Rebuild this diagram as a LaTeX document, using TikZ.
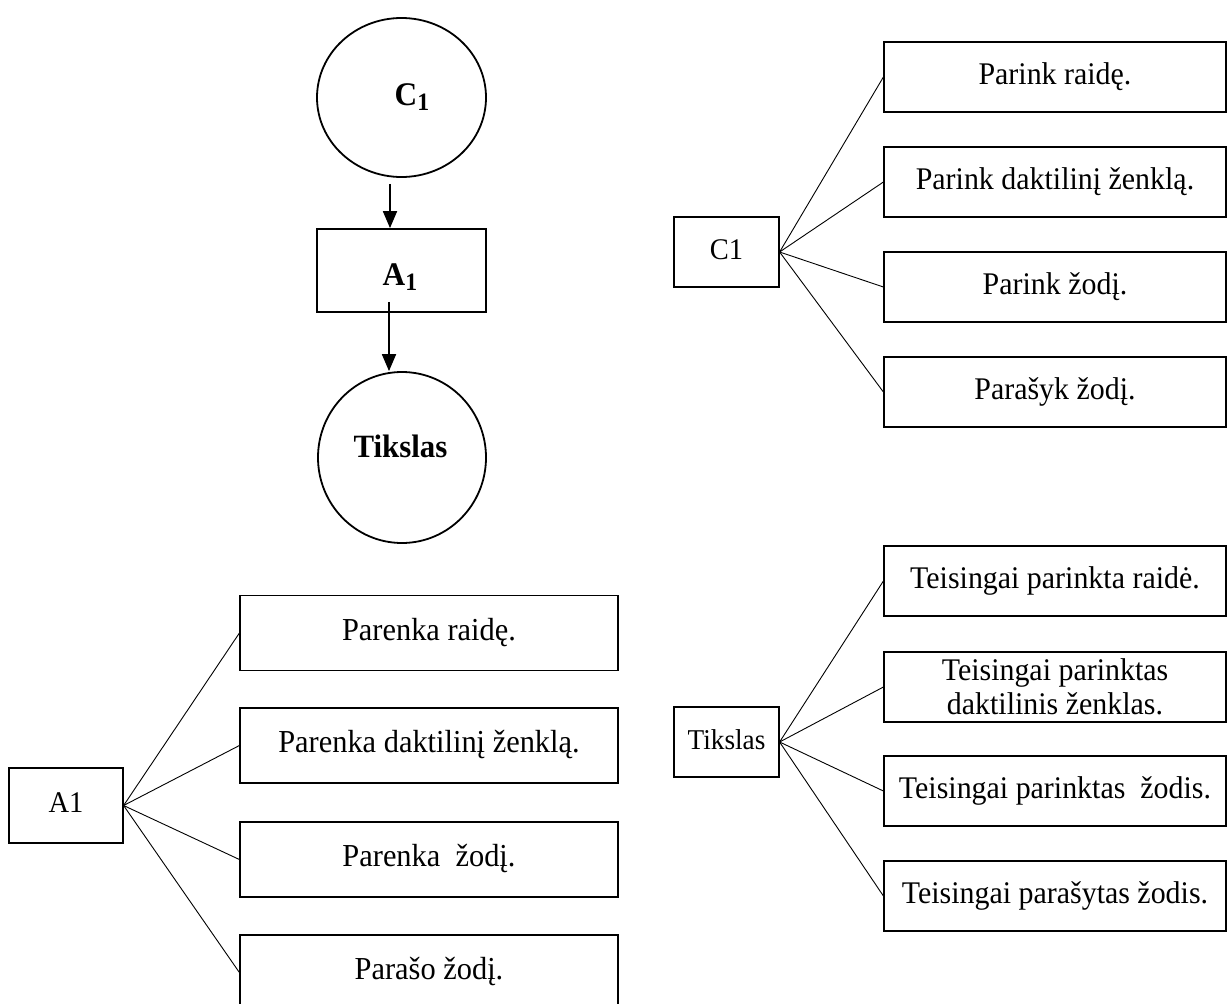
\documentclass[tikz,border=0pt]{standalone}
\usepackage{fontspec}
\setmainfont[FakeStretch=0.95]{Liberation Serif}
\usetikzlibrary{shapes.geometric,arrows.meta}
\begin{document}
\begin{tikzpicture}[x=1pt,y=-1pt,
  box/.style={draw, line width=1.2pt, inner sep=0pt, font=\fontsize{31.5}{35}\selectfont, text height=21pt, text depth=7pt, align=center},
  rbox/.style={box, minimum width=342pt, minimum height=70pt},
  lbox/.style={box, minimum width=378pt, minimum height=75pt, font=\fontsize{32}{35}\selectfont},
  hub/.style={box, minimum width=105pt, minimum height=70pt, font=\fontsize{30}{34}\selectfont},
  goal/.style={draw, ellipse, line width=1.8pt, inner sep=0pt},
  fan/.style={line width=0.9pt},
  arr/.style={line width=1.8pt, -{Triangle[length=17pt,width=14pt]}},
  boldlbl/.style={font=\fontsize{33}{33}\selectfont\bfseries, inner sep=0pt, anchor=base}
]
\useasboundingbox (0,0) rectangle (1227,1004);

% left flow
\node[goal, minimum width=169pt, minimum height=159pt] (cc) at (401.5,97.5) {};
\node[boldlbl] (cctext) at (412,105) {C\raisebox{-5pt}{\fontsize{25}{25}\selectfont 1}};
\node[draw, line width=1.8pt, inner sep=0pt, minimum width=169pt, minimum height=83pt] (aa) at (401.5,270.5) {};
\node[boldlbl] (aatext) at (400,285) {A\raisebox{-5pt}{\fontsize{25}{25}\selectfont 1}};
\node[goal, minimum width=168pt, minimum height=171pt] (tk) at (402,457.5) {};
\node[boldlbl, font=\fontsize{32.5}{32.5}\selectfont\bfseries] (tktext) at (400.5,457) {Tikslas};

\draw[arr] ([xshift=-11.5pt,yshift=-6pt]cc.south) -- ([xshift=-11.5pt]aa.north);
\draw[arr] ([xshift=-12.5pt,yshift=11pt]aa.south) -- ([xshift=-13pt]tk.north);

% top right
\node[hub] (hc) at (726.5,252) {C1};
\node[rbox] (c1) at (1055,77) {Parink raidę.};
\node[rbox] (c2) at (1055,182) {Parink daktilinį ženklą.};
\node[rbox] (c3) at (1055,287) {Parink žodį.};
\node[rbox] (c4) at (1055,392) {Parašyk žodį.};
\foreach \n in {c1,c2,c3,c4} \draw[fan] (hc.east) -- (\n.west);

% bottom right
\node[hub, font=\fontsize{28.7}{32}\selectfont] (ht) at (726.5,742) {Tikslas};
\node[rbox] (t1) at (1055,581) {Teisingai parinkta raidė.};
\node[rbox, text height=, text depth=, font=\fontsize{31.5}{34}\selectfont] (t2) at (1055,687) {Teisingai parinktas\\daktilinis ženklas.};
\node[rbox] (t3) at (1055,791) {Teisingai parinktas\ \ žodis.};
\node[rbox] (t4) at (1055,896) {Teisingai parašytas žodis.};
\foreach \n in {t1,t2,t3,t4} \draw[fan] (ht.east) -- (\n.west);

% bottom left
\node[hub, minimum width=114pt, minimum height=75pt] (ha) at (66,805.5) {A1};
\node[lbox] (a1) at (429,633) {Parenka raidę.};
\node[lbox] (a2) at (429,745.5) {Parenka daktilinį ženklą.};
\node[lbox] (a3) at (429,859.5) {Parenka\ \ žodį.};
\node[lbox] (a4) at (429,972.5) {Parašo žodį.};
\foreach \n in {a1,a2,a3,a4} \draw[fan] (ha.east) -- (\n.west);
\end{tikzpicture}
\end{document}
